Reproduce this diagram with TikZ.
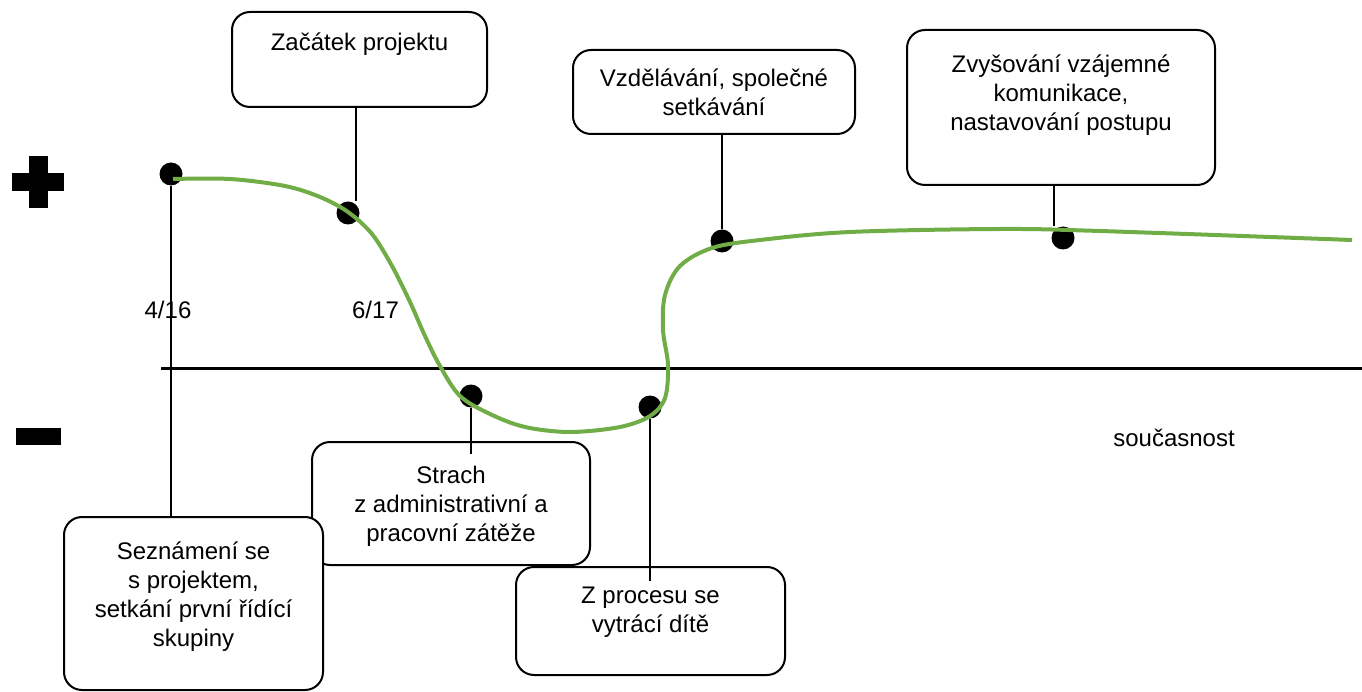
\documentclass[tikz,border=0pt]{standalone}
\usepackage{fontspec}
\setmainfont{Liberation Sans}
\usetikzlibrary{positioning}

\definecolor{trendgreen}{RGB}{112,173,71}

\begin{document}
\begin{tikzpicture}[x=1pt, y=-1pt,
  card/.style={draw, fill=white, line width=2pt, rounded corners=18pt},
  cardtext/.style={align=center, inner sep=0pt, font=\fontsize{24}{29}\selectfont},
  event/.style={circle, fill=black, inner sep=0pt, minimum size=23pt},
  lead/.style={line width=1.5pt}]
\useasboundingbox (0,0) rectangle (1362,692);

% plus / minus marks
\fill (29,156) rectangle (48,208);
\fill (12,173) rectangle (64,191);
\fill (16,428) rectangle (61,445);

% zero line
\draw[line width=3pt] (161,368) -- (1362,368);

% boxes
\node[card, minimum width=255pt, minimum height=95pt] (zacatek) at (359.5,59.5) {};
\node[card, minimum width=282pt, minimum height=84pt] (vzdel) at (714,92) {};
\node[card, minimum width=308pt, minimum height=155pt] (zvys) at (1061,107.5) {};
\node[card, minimum width=278pt, minimum height=123pt] (strach) at (451,503.5) {};
\node[card, minimum width=269pt, minimum height=108pt] (proces) at (650.5,621) {};
\node[card, minimum width=259pt, minimum height=173pt] (sezn) at (193.5,603.5) {};

\node[cardtext, below=22pt of zacatek.north] {Začátek projektu};
\node[cardtext, below=20pt of vzdel.north] {Vzdělávání, společné\\setkávání};
\node[cardtext, below=26pt of zvys.north] {Zvyšování vzájemné\\komunikace,\\nastavování postupu};
\node[cardtext, below=25pt of strach.north] {Strach\\z administrativní a\\pracovní zátěže};
\node[cardtext, below=21pt of proces.north] {Z procesu se\\vytrácí dítě};
\node[cardtext, below=26pt of sezn.north] {Seznámení se\\s projektem,\\setkání první řídící\\skupiny};

% events
\node[event] (d1) at (171,174) {};
\node[event] (d2) at (348,213) {};
\node[event] (d3) at (471,396) {};
\node[event] (d4) at (650,407) {};
\node[event] (d5) at (722,241) {};
\node[event] (d6) at (1063,238) {};

\draw[lead] (d1) -- (sezn.north -| d1);
\draw[lead] ([xshift=8pt]zacatek.south -| d2) -- ([xshift=8pt]d2.north);
\draw[lead] (vzdel.south -| d5) -- (d5);
\draw[lead] ([xshift=-9pt]zvys.south -| d6) -- ([xshift=-9pt]d6.north);
\draw[lead] (d3) -- ([yshift=-13pt]strach.north -| d3);
\draw[lead] (d4) -- ([yshift=-15pt]proces.north -| d4);

% course over time
\draw[trendgreen, line width=4pt] plot[smooth, tension=0.55] coordinates {
  (173,179) (230,179) (285,186) (320,197) (348,212) (372,234) (392,266)
  (410,302) (425,336) (440,366) (460,396) (490,414) (525,427) (570,432)
  (620,427) (650,416) (665,398) (668,365) (663,330) (665,295) (680,266)
  (712,248) (760,240) (850,232) (1000,229) (1100,231) (1352,240)};

\node[cardtext, anchor=base] (t1) at (168,319) {4/16};
\node[cardtext, anchor=base] (t2) at (375.5,319) {6/17};
\node[cardtext, anchor=base] (now) at (1174,446) {současnost};
\end{tikzpicture}
\end{document}
